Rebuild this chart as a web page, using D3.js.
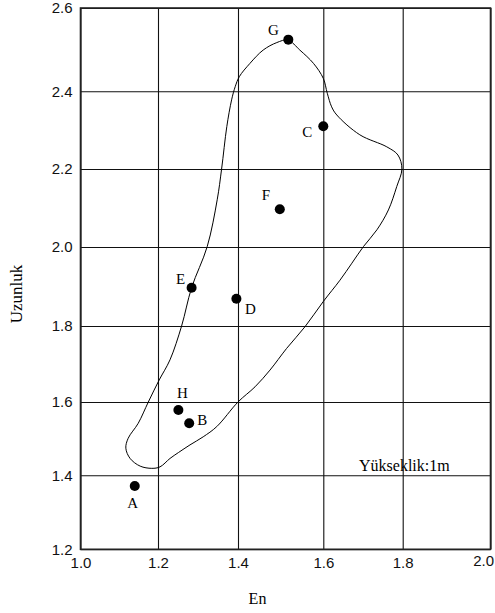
<!DOCTYPE html>
<html>
<head>
<meta charset="utf-8">
<script src="https://cdn.jsdelivr.net/npm/d3@7"></script>
<style>
  body { margin: 0; background: #fff; }
  svg { display: block; font-family: "Liberation Serif", "Times New Roman", serif; }
</style>
</head>
<body>
<div id="chart"></div>
<script>
// point labels and positions (En, Uzunluk)
const pointNames = ["A", "B", "C", "D", "E", "F", "G", "H"];
const pointEn = [1.14, 1.278, 1.6, 1.396, 1.284, 1.498, 1.518, 1.251];
const pointUzunluk = [1.371, 1.542, 2.31, 1.869, 1.897, 2.097, 2.524, 1.578];

// closed contour line
const contourEn = [1.184, 1.205, 1.23, 1.251, 1.28, 1.313, 1.347, 1.4, 1.44, 1.475, 1.514, 1.557, 1.6, 1.642, 1.672, 1.701, 1.735, 1.764, 1.785, 1.798, 1.788, 1.76, 1.692, 1.634, 1.621, 1.61, 1.6, 1.577, 1.545, 1.517, 1.491, 1.459, 1.428, 1.403, 1.393, 1.384, 1.372, 1.359, 1.348, 1.323, 1.284, 1.259, 1.23, 1.203, 1.175, 1.149, 1.123, 1.117, 1.128, 1.154];
const contourUzunluk = [1.419, 1.423, 1.446, 1.462, 1.483, 1.505, 1.533, 1.6, 1.64, 1.684, 1.741, 1.798, 1.862, 1.916, 1.959, 2.001, 2.044, 2.095, 2.155, 2.2, 2.236, 2.257, 2.288, 2.339, 2.36, 2.395, 2.431, 2.467, 2.499, 2.523, 2.517, 2.499, 2.467, 2.435, 2.411, 2.378, 2.309, 2.2, 2.121, 2.001, 1.897, 1.8, 1.711, 1.658, 1.6, 1.542, 1.501, 1.474, 1.446, 1.425];

const xTicks = [1.0, 1.2, 1.4, 1.6, 1.8, 2.0];
const yTicks = [1.2, 1.4, 1.6, 1.8, 2.0, 2.2, 2.4, 2.6];
const xTickLabels = ["1.0", "1.2", "1.4", "1.6", "1.8", "2.0"];
const yTickLabels = ["1.2", "1.4", "1.6", "1.8", "2.0", "2.2", "2.4", "2.6"];
const noteText = "Yükseklik:1m";

const width = 495, height = 613;

// the original grid is slightly uneven, so the scales are piecewise
const x = d3.scaleLinear().domain(xTicks).range([80.5, 158, 238, 323.3, 402.7, 490.5]);
const y = d3.scaleLinear().domain(yTicks).range([549.3, 475.3, 402, 326, 247, 169, 91.3, 8]);

const svg = d3.select("#chart").append("svg")
  .attr("width", width)
  .attr("height", height);

// grid + tick labels
const gx = svg.append("g")
  .attr("transform", `translate(0,${y(1.2)})`)
  .call(d3.axisBottom(x).tickValues(xTicks)
    .tickFormat((d, i) => xTickLabels[i])
    .tickSize(-(y(1.2) - y(2.6)))
    .tickPadding(8));
gx.select(".domain").remove();
gx.selectAll("line").attr("stroke", "#111").attr("stroke-width", 1.1);
gx.selectAll("text").attr("font-size", 15).attr("fill", "#111");
gx.selectAll(".tick").filter((d) => d === 2.0).select("text")
  .attr("text-anchor", "end")
  .attr("x", 3)
  .attr("dy", "0.55em");

const gy = svg.append("g")
  .attr("transform", `translate(${x(1.0)},0)`)
  .call(d3.axisLeft(y).tickValues(yTicks)
    .tickFormat((d, i) => yTickLabels[i])
    .tickSize(-(x(2.0) - x(1.0)))
    .tickPadding(8));
gy.select(".domain").remove();
gy.selectAll("line").attr("stroke", "#111").attr("stroke-width", 1.1);
gy.selectAll("text").attr("font-size", 15).attr("fill", "#111");

// frame
svg.append("rect")
  .attr("x", x(1.0))
  .attr("y", y(2.6))
  .attr("width", x(2.0) - x(1.0))
  .attr("height", y(1.2) - y(2.6))
  .attr("fill", "none")
  .attr("stroke", "#222")
  .attr("stroke-width", 1.6);

// contour
const contour = contourEn.map((d, i) => [d, contourUzunluk[i]]);
svg.append("path")
  .datum(contour)
  .attr("fill", "none")
  .attr("stroke", "#000")
  .attr("stroke-width", 1)
  .attr("d", d3.line()
    .x((d) => x(d[0]))
    .y((d) => y(d[1]))
    .curve(d3.curveCatmullRomClosed.alpha(0.5)));

// points
const points = pointNames.map((name, i) => ({ name, en: pointEn[i], uz: pointUzunluk[i] }));
const labelOffset = {
  A: [-2, 17], B: [13, -4], C: [-16, 5], D: [14, 10],
  E: [-11, -9], F: [-14, -14], G: [-15, -10], H: [4, -17]
};

svg.append("g")
  .selectAll("circle")
  .data(points)
  .join("circle")
  .attr("cx", (d) => x(d.en))
  .attr("cy", (d) => y(d.uz))
  .attr("r", 5)
  .attr("fill", "#000");

svg.append("g")
  .selectAll("text")
  .data(points)
  .join("text")
  .attr("x", (d) => x(d.en) + labelOffset[d.name][0])
  .attr("y", (d) => y(d.uz) + labelOffset[d.name][1])
  .attr("dy", "0.35em")
  .attr("text-anchor", "middle")
  .attr("font-size", 15)
  .text((d) => d.name);

// note
svg.append("text")
  .attr("x", x(1.69))
  .attr("y", y(1.427))
  .attr("dy", "0.35em")
  .attr("font-size", 16)
  .text(noteText);

// axis titles
svg.append("text")
  .attr("x", (x(1.0) + x(2.0)) / 2 - 28)
  .attr("y", 598)
  .attr("dy", "0.35em")
  .attr("text-anchor", "middle")
  .attr("font-size", 16)
  .text("En");

svg.append("text")
  .attr("transform", `translate(16,294) rotate(-90)`)
  .attr("dy", "0.35em")
  .attr("text-anchor", "middle")
  .attr("font-size", 17)
  .text("Uzunluk");
</script>
</body>
</html>
